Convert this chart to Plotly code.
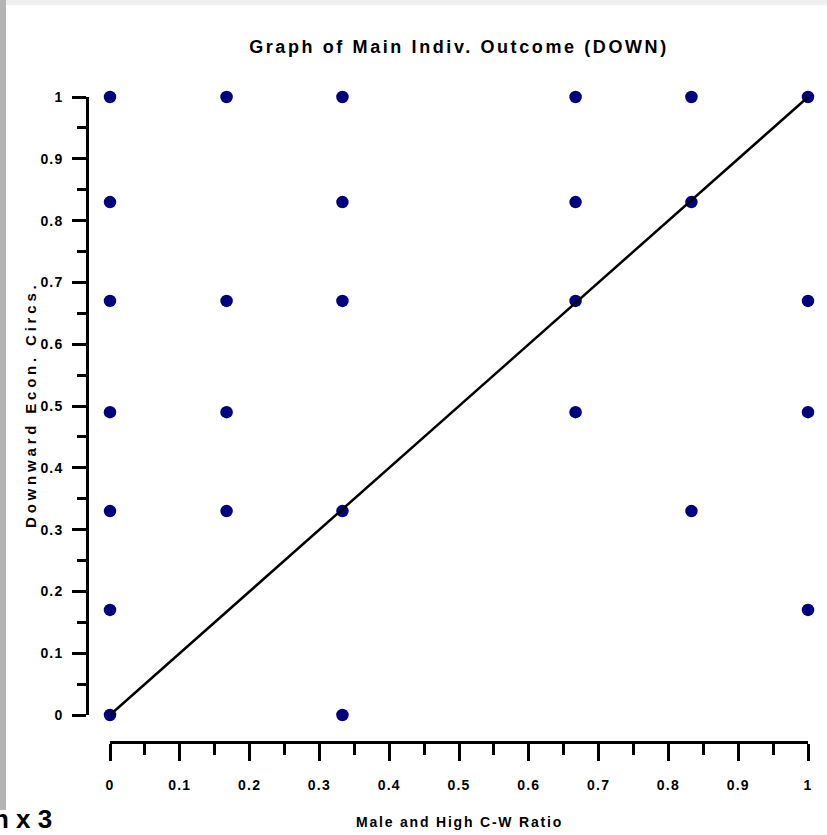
import plotly.graph_objects as go

# ---- data ----
x_points = [0, 0, 0, 0, 0, 0, 0,
            0.167, 0.167, 0.167, 0.167,
            0.333, 0.333, 0.333, 0.333, 0.333,
            0.667, 0.667, 0.667, 0.667,
            0.833, 0.833, 0.833,
            1, 1, 1, 1]
y_points = [1, 0.83, 0.67, 0.49, 0.33, 0.17, 0,
            1, 0.67, 0.49, 0.33,
            1, 0.83, 0.67, 0.33, 0,
            1, 0.83, 0.67, 0.49,
            1, 0.83, 0.33,
            1, 0.67, 0.49, 0.17]
fit_x = [0, 1]
fit_y = [0, 1]

tick_vals = [0, 0.1, 0.2, 0.3, 0.4, 0.5, 0.6, 0.7, 0.8, 0.9, 1]
tick_text = ["0", "0.1", "0.2", "0.3", "0.4", "0.5", "0.6", "0.7", "0.8", "0.9", "1"]
minor_vals = [0.05, 0.15, 0.25, 0.35, 0.45, 0.55, 0.65, 0.75, 0.85, 0.95]

title_text = "Graph of Main Indiv. Outcome (DOWN)"
x_title = "Male and High C-W Ratio"
y_title = "Downward Econ. Circs."
corner_text = "n x 3"

# ---- geometry ----
W, H = 827, 835
ML, MR, MT, MB = 87, 19, 97, 93
PW, PH = W - ML - MR, H - MT - MB
FONT = "Liberation Sans, Arial, sans-serif"


def px_x(px):
    return (px - ML) / PW


def px_y(py):
    return (H - MB - py) / PH


def spaced(t, sp):
    return '<span style="letter-spacing:%spx">%s</span>' % (sp, t)


fig = go.Figure()
fig.add_trace(go.Scatter(
    x=x_points, y=y_points, mode="markers",
    marker=dict(symbol="circle", size=12.5, color="#00007f"),
    cliponaxis=False, showlegend=False, hoverinfo="skip"))
fig.add_trace(go.Scatter(
    x=fit_x, y=fit_y, mode="lines",
    line=dict(color="black", width=2.5),
    cliponaxis=False, showlegend=False, hoverinfo="skip"))

axis_common = dict(
    range=[0, 1], showgrid=False, zeroline=False, showline=True,
    linecolor="black", linewidth=2.5, ticks="outside", tickwidth=2.5,
    tickcolor="black", tickmode="array", tickvals=tick_vals,
    ticktext=[spaced(t, 1.2) for t in tick_text],
    tickfont=dict(family=FONT, size=14, color="black", weight="bold"),
    fixedrange=True, anchor="free", position=0,
)

fig.update_layout(
    width=W, height=H,
    margin=dict(l=ML, r=MR, t=MT, b=MB, pad=0),
    paper_bgcolor="white", plot_bgcolor="white",
    xaxis=dict(axis_common, domain=[px_x(110), 1], ticklen=17,
               ticklabelstandoff=12,
               minor=dict(tickmode="array", tickvals=minor_vals, ticks="outside",
                          ticklen=11, tickwidth=2.5, tickcolor="black")),
    yaxis=dict(axis_common, domain=[px_y(715), 1], ticklen=14,
               ticklabelstandoff=6,
               minor=dict(tickmode="array", tickvals=minor_vals, ticks="outside",
                          ticklen=9, tickwidth=2.5, tickcolor="black")),
    title=dict(text=spaced(title_text, 2.6), xref="paper", x=px_x(459),
               xanchor="center", yref="container", y=1 - 47 / H,
               yanchor="middle",
               font=dict(family=FONT, size=18, color="black", weight="bold")),
    annotations=[
        dict(text=spaced(x_title, 1.8), xref="paper", yref="paper",
             x=px_x(459), y=px_y(822), xanchor="center", yanchor="middle",
             showarrow=False,
             font=dict(family=FONT, size=14, color="black", weight="bold")),
        dict(text=spaced(y_title, 3.8), xref="paper", yref="paper",
             x=px_x(30), y=px_y(405), xanchor="center", yanchor="middle",
             textangle=-90, showarrow=False,
             font=dict(family=FONT, size=15, color="black", weight="bold")),
        dict(text=corner_text, xref="paper", yref="paper",
             x=px_x(-9), y=px_y(819), xanchor="left", yanchor="middle",
             showarrow=False,
             font=dict(family=FONT, size=26, color="black", weight="bold")),
    ],
    shapes=[
        dict(type="rect", xref="paper", yref="paper", layer="above",
             x0=px_x(0), x1=px_x(827), y0=px_y(5), y1=px_y(0),
             fillcolor="#eeeeee", line=dict(width=0)),
        dict(type="rect", xref="paper", yref="paper", layer="above",
             x0=px_x(0), x1=px_x(6), y0=px_y(810), y1=px_y(0),
             fillcolor="#b4b4b4", line=dict(width=0)),
    ],
)

fig.write_html("out.html",
               config={"displayModeBar": False},
               post_script="document.body.style.margin='0';")
